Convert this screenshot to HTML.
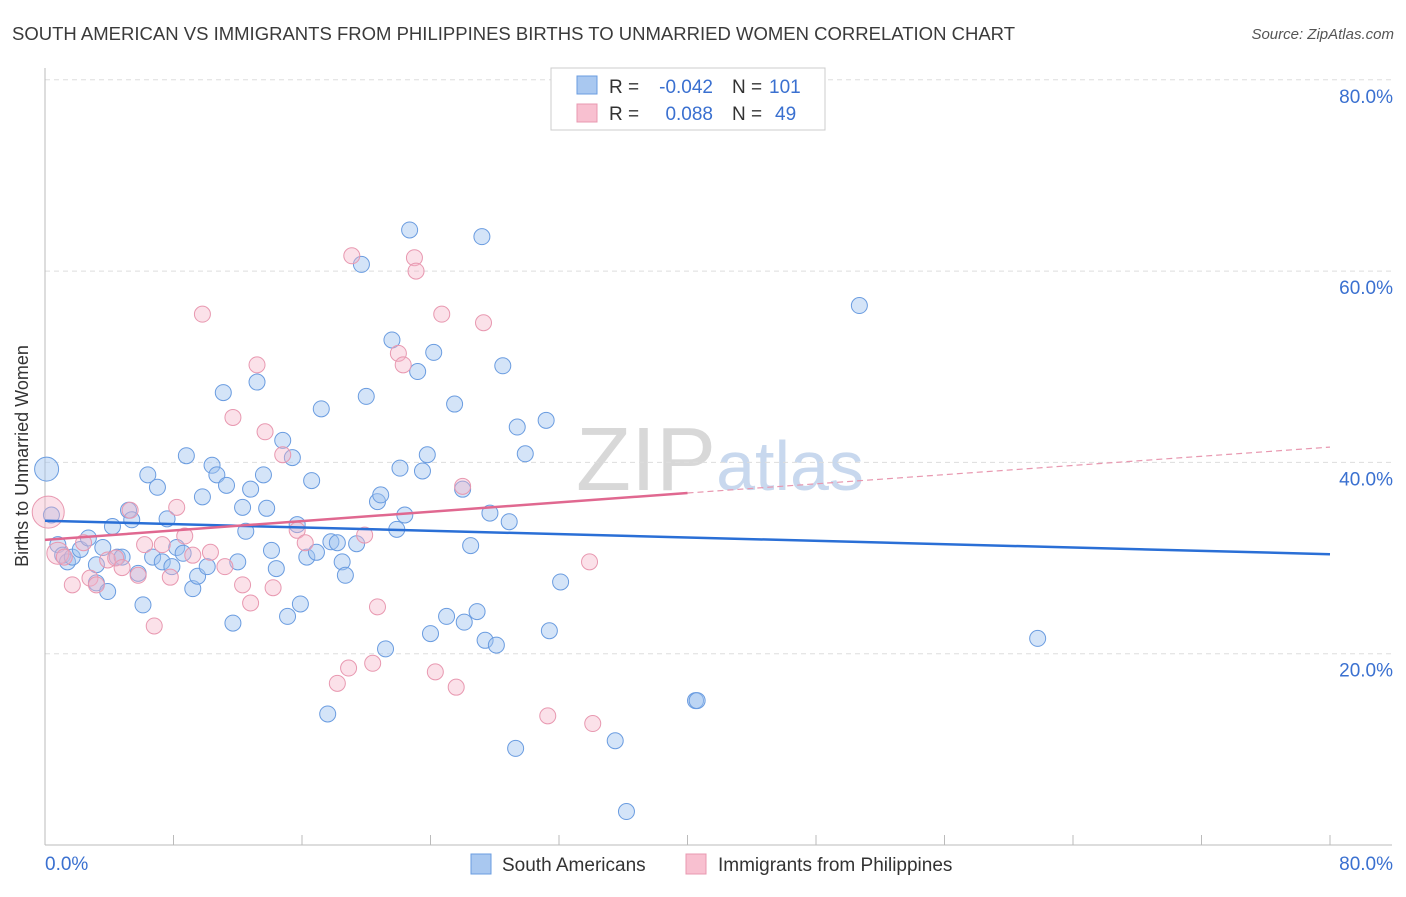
<!DOCTYPE html>
<html><head><meta charset="utf-8"><style>
body{margin:0;background:#fff;font-family:"Liberation Sans",sans-serif}
svg text{font-family:"Liberation Sans",sans-serif}
</style></head><body>
<svg id="chart" width="1406" height="892" xmlns="http://www.w3.org/2000/svg">
<text x="12" y="40" font-size="18" fill="#3a3a3a" textLength="1003" lengthAdjust="spacingAndGlyphs">SOUTH AMERICAN VS IMMIGRANTS FROM PHILIPPINES BIRTHS TO UNMARRIED WOMEN CORRELATION CHART</text>
<text x="1394" y="39" font-size="15" fill="#555" font-style="italic" text-anchor="end">Source: ZipAtlas.com</text>
<text x="720" y="490" font-size="90" fill="#dfe6ee" text-anchor="middle" font-family="Liberation Serif"><tspan fill="#d8d8d8">ZIP</tspan><tspan fill="#c8d8ee" font-family="Liberation Sans" font-size="70">atlas</tspan></text>
<g id="grid"></g>
<g id="axes"></g>
<g id="marks"></g>
<g id="trends"></g>
<text x="28" y="456" font-size="18" fill="#333" text-anchor="middle" transform="rotate(-90 28 456)">Births to Unmarried Women</text>
<g>
<rect x="551" y="68" width="274" height="62" fill="#fff" stroke="#ccc"/>
<rect x="577" y="76" width="20" height="18" fill="#a9c8f0" stroke="#6a9ce0"/>
<rect x="577" y="104" width="20" height="18" fill="#f8c0d0" stroke="#e898b0"/>
<text x="609" y="93" font-size="19" fill="#333">R =</text>
<text x="713" y="93" font-size="19" fill="#3a70d0" text-anchor="end">-0.042</text>
<text x="732" y="93" font-size="19" fill="#333">N =</text>
<text x="769" y="93" font-size="19" fill="#3a70d0">101</text>
<text x="609" y="120" font-size="19" fill="#333">R =</text>
<text x="713" y="120" font-size="19" fill="#3a70d0" text-anchor="end">0.088</text>
<text x="732" y="120" font-size="19" fill="#333">N =</text>
<text x="775" y="120" font-size="19" fill="#3a70d0">49</text>
</g>
<g>
<rect x="471" y="854" width="20" height="20" fill="#a9c8f0" stroke="#6a9ce0"/>
<text x="502" y="871" font-size="19" fill="#333">South Americans</text>
<rect x="686" y="854" width="20" height="20" fill="#f8c0d0" stroke="#e898b0"/>
<text x="718" y="871" font-size="19" fill="#333">Immigrants from Philippines</text>
</g>
</svg>
<script>
const blueX=[0.1,0.4,0.8,1.1,1.4,1.7,2.2,2.7,3.2,3.2,3.6,3.9,4.2,4.5,4.8,5.2,5.4,5.8,6.1,6.4,6.7,7.0,7.3,7.6,7.9,8.2,8.6,8.8,9.2,9.5,9.8,10.1,10.4,10.7,11.1,11.3,11.7,12.0,12.3,12.5,12.8,13.2,13.6,13.8,14.1,14.4,14.8,15.1,15.4,15.7,15.9,16.3,16.6,16.9,17.2,17.6,17.8,18.2,18.5,18.7,19.4,19.7,20.0,20.7,20.9,21.2,21.6,21.9,22.1,22.4,22.7,23.2,23.5,23.8,24.2,24.0,25.0,25.5,26.0,26.1,26.5,26.9,27.2,27.4,27.7,28.1,28.5,28.9,29.3,29.4,29.9,31.2,31.4,32.1,35.5,36.2,40.5,40.6,50.7,61.8];
const blueY=[39.3,34.5,31.4,30.3,29.6,30.1,30.9,32.1,29.3,27.4,31.1,26.5,33.3,30.1,30.1,35.0,34.0,28.4,25.1,38.7,30.1,37.4,29.6,34.1,29.1,31.1,30.5,40.7,26.8,28.1,36.4,29.1,39.7,38.7,47.3,37.6,23.2,29.6,35.3,32.8,37.2,48.4,38.7,35.2,30.8,28.9,42.3,23.9,40.5,33.5,25.2,30.1,38.1,30.6,45.6,13.7,31.7,31.6,29.6,28.2,31.5,60.7,46.9,35.9,36.6,20.5,52.8,33.0,39.4,34.5,64.3,49.5,39.1,40.8,51.5,22.1,23.9,46.1,37.2,23.3,31.3,24.4,63.6,21.4,34.7,20.9,50.1,33.8,10.1,43.7,40.9,44.4,22.4,27.5,10.9,3.5,15.1,15.1,56.4,21.6];
const pinkX=[0.2,0.8,1.2,1.7,2.4,2.8,3.2,3.9,4.4,4.8,5.3,5.8,6.2,6.8,7.3,7.8,8.2,8.7,9.2,9.8,10.3,11.2,11.7,12.3,12.8,13.2,13.7,14.2,14.8,15.7,16.2,18.2,18.9,19.1,19.9,20.4,20.7,22.0,22.3,23.0,23.1,24.3,24.7,25.6,26.0,27.3,31.3,33.9,34.1];
const pinkY=[34.8,30.5,30.1,27.2,31.6,27.9,27.2,29.8,30.0,29.0,35.0,28.2,31.4,22.9,31.4,28.0,35.3,32.3,30.3,55.5,30.6,29.1,44.7,27.2,25.3,50.2,43.2,26.9,40.8,32.9,31.6,16.9,18.5,61.6,32.4,19.0,24.9,51.4,50.2,61.4,60.0,18.1,55.5,16.5,37.5,54.6,13.5,29.6,12.7];
const yTicks=[20,40,60,80];
const xTickLabels=["0.0%","80.0%"];
const blueTrend=[33.9,30.4];
const pinkTrend=[31.9,36.8,41.6];
const NS="http://www.w3.org/2000/svg";
const X=v=>45+v/80*1285, Y=v=>845-v/20*191.3;
function mk(t,a,p){const e=document.createElementNS(NS,t);for(const k in a)e.setAttribute(k,a[k]);p.appendChild(e);return e;}
const grid=document.getElementById('grid'),axes=document.getElementById('axes'),marks=document.getElementById('marks'),trends=document.getElementById('trends');
yTicks.forEach(t=>{const l=mk('line',{x1:45,x2:1392,y1:Y(t),y2:Y(t),stroke:'#ddd','stroke-dasharray':'5,4'},grid);


const tx=mk('text',{x:1393,y:Y(t)+23,'font-size':19,fill:'#3a70d0','text-anchor':'end'},axes);tx.textContent=t.toFixed(1)+'%';

});
mk('line',{x1:45,x2:45,y1:68,y2:845,stroke:'#bbb'},axes);
mk('line',{x1:45,x2:1392,y1:845,y2:845,stroke:'#bbb'},axes);
for(let i=0;i<=10;i++){mk('line',{x1:X(i*8),x2:X(i*8),y1:835,y2:845,stroke:'#bbb'},axes);}
const t0=mk('text',{x:45,y:870,'font-size':19,fill:'#3a70d0'},axes);t0.textContent=xTickLabels[0];


const t1=mk('text',{x:1393,y:870,'font-size':19,fill:'#3a70d0','text-anchor':'end'},axes);t1.textContent=xTickLabels[1];


blueX.forEach((x,i)=>{const c=mk('circle',{cx:X(x),cy:Y(blueY[i]),r:i==0?12:8,fill:'rgba(160,196,240,0.45)',stroke:'#6a9ce0','stroke-width':1},marks);

});
pinkX.forEach((x,i)=>{const c=mk('circle',{cx:X(x),cy:Y(pinkY[i]),r:i==0?16:(i==1?11:8),fill:'rgba(245,180,200,0.4)',stroke:'#e898b0','stroke-width':1},marks);

});
const bl=mk('line',{x1:X(0),y1:Y(blueTrend[0]),x2:X(80),y2:Y(blueTrend[1]),stroke:'#2a6fd6','stroke-width':2.5},trends);


const pl=mk('line',{x1:X(0),y1:Y(pinkTrend[0]),x2:X(40),y2:Y(pinkTrend[1]),stroke:'#e06890','stroke-width':2.5},trends);


const pd=mk('line',{x1:X(40),y1:Y(pinkTrend[1]),x2:X(80),y2:Y(pinkTrend[2]),stroke:'#e898b0','stroke-width':1.2,'stroke-dasharray':'6,4'},trends);


</script>
</body></html>
